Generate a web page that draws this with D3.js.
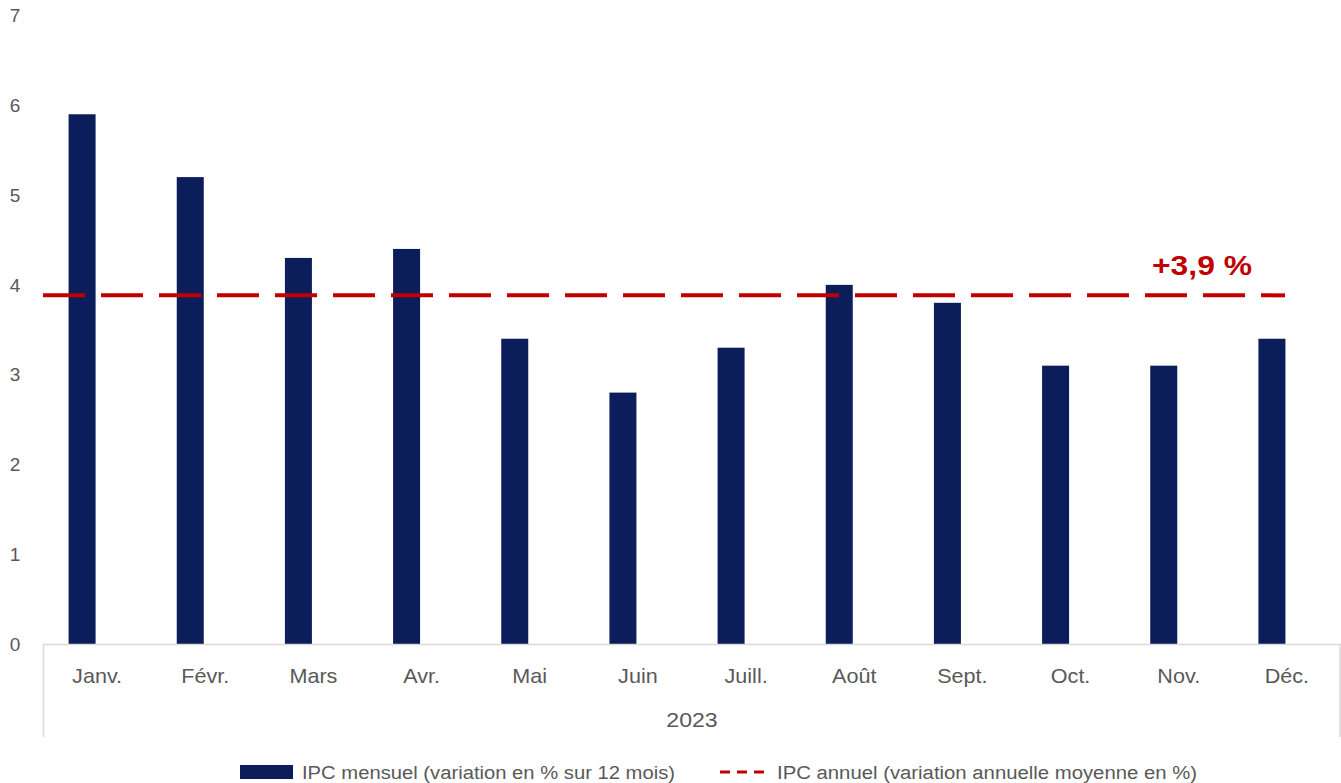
<!DOCTYPE html>
<html><head><meta charset="utf-8">
<script src="https://cdn.jsdelivr.net/npm/d3@7"></script>
<style>body{margin:0;background:#fff}svg{display:block}text{font-family:"Liberation Sans",Arial,sans-serif}</style>
</head><body><svg id="c" width="1341" height="783"></svg>
<script>
const months = ["Janv.","Févr.","Mars","Avr.","Mai","Juin","Juill.","Août","Sept.","Oct.","Nov.","Déc."];
const ipcMensuel = [5.9,5.2,4.3,4.4,3.4,2.8,3.3,4.0,3.8,3.1,3.1,3.4];
const ipcAnnuel = 3.9;
const yTicks = [0,1,2,3,4,5,6,7];
const yearLabel = "2023";
const annualLabel = "+3,9 %";
const legendLabels = ["IPC mensuel (variation en % sur 12 mois)","IPC annuel (variation annuelle moyenne en %)"];

const svg = d3.select("#c");
const navy = "#0b1d5a", red = "#c00000", grey = "#595959";
const x = d3.scaleBand().domain(months).range([43,1341]).paddingInner(0.76).paddingOuter(0.38);
const y = d3.scaleLinear().domain([0,7]).range([644,15.5]);
const barW = 27, barOff = -15;

// y tick labels
svg.append("g").selectAll("text").data(yTicks).join("text")
  .attr("x",15).attr("y",d=>y(d)).attr("dy","0.36em").attr("text-anchor","middle")
  .attr("fill",grey).style("font-size","19px").text(d=>d);

// bars
svg.append("g").selectAll("rect").data(ipcMensuel).join("rect")
  .attr("x",(d,i)=>x(months[i])+x.bandwidth()/2+barOff-barW/2).attr("width",barW)
  .attr("y",d=>y(d)).attr("height",d=>y(0)-y(d)).attr("fill",navy);

// axis lines
const axisG = svg.append("g").attr("stroke","#d9d9d9").attr("stroke-width",1.5);
axisG.append("line").attr("x1",43).attr("x2",1341).attr("y1",y(0)+0.5).attr("y2",y(0)+0.5);
axisG.append("line").attr("x1",43.5).attr("x2",43.5).attr("y1",y(0)).attr("y2",737);
axisG.append("line").attr("x1",1340).attr("x2",1340).attr("y1",y(0)).attr("y2",737);

// month labels
svg.append("g").selectAll("text").data(months).join("text")
  .attr("transform",d=>`translate(${x(d)+x.bandwidth()/2},683) scale(1.08,1)`).attr("text-anchor","middle")
  .attr("fill",grey).style("font-size","20px").text(d=>d);
svg.append("text").attr("transform","translate(692,727) scale(1.1,1)").attr("text-anchor","middle")
  .attr("fill",grey).style("font-size","21px").text(yearLabel);

// annual dashed line
svg.append("line").attr("x1",43).attr("x2",1285).attr("y1",y(ipcAnnuel)+1.5).attr("y2",y(ipcAnnuel)+1.5)
  .attr("stroke",red).attr("stroke-width",4).attr("stroke-dasharray","42,16");
svg.append("text").attr("x",1152).attr("y",275).attr("textLength",100).attr("lengthAdjust","spacingAndGlyphs")
  .attr("fill",red).style("font-size","28px").style("font-weight","bold").text(annualLabel);

// legend
svg.append("rect").attr("x",240).attr("y",765).attr("width",53).attr("height",14).attr("fill",navy);
svg.append("text").attr("x",302).attr("y",779).attr("textLength",373).attr("lengthAdjust","spacingAndGlyphs")
  .attr("fill",grey).style("font-size","18px").text(legendLabels[0]);
svg.append("line").attr("x1",720).attr("x2",766).attr("y1",772).attr("y2",772)
  .attr("stroke",red).attr("stroke-width",3).attr("stroke-dasharray","10,7");
svg.append("text").attr("x",777).attr("y",779).attr("textLength",420).attr("lengthAdjust","spacingAndGlyphs")
  .attr("fill",grey).style("font-size","18px").text(legendLabels[1]);
</script></body></html>
